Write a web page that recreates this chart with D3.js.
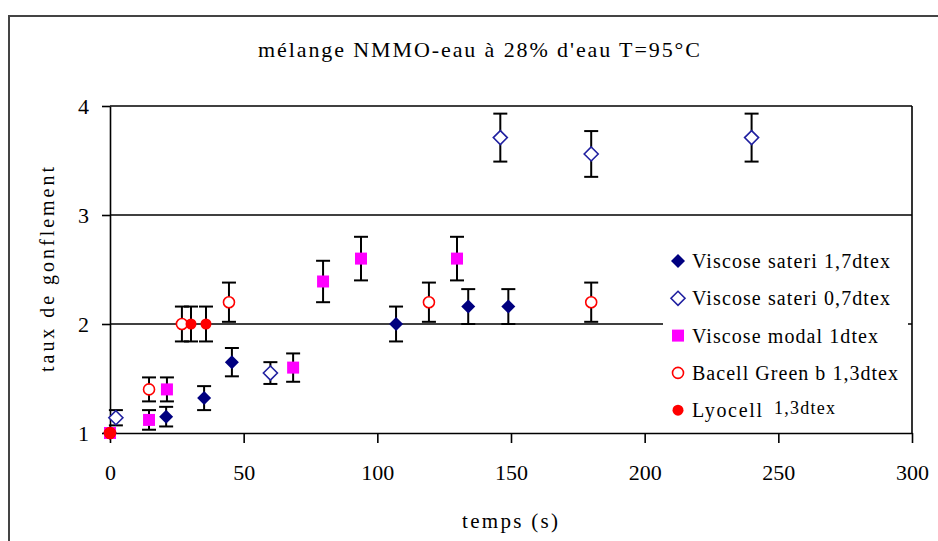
<!DOCTYPE html>
<html>
<head>
<meta charset="utf-8">
<script src="https://cdn.jsdelivr.net/npm/d3@7"></script>
<style>
  body { margin: 0; background: #fff; }
  svg { display: block; }
  text { font-family: "Liberation Serif", "DejaVu Serif", serif; fill: #000; }
</style>
</head>
<body>
<div id="chart"></div>
<script>
// [temps (s), taux de gonflement, erreur]
const sateri17 = [[0, 1, 0], [21, 1.15, 0.09], [35.2, 1.32, 0.11], [45.6, 1.65, 0.13], [107, 2.0, 0.16], [134, 2.16, 0.16], [149, 2.16, 0.16]];
const sateri07 = [[2.2, 1.14, 0.07], [60, 1.55, 0.1], [146, 3.71, 0.22], [180, 3.56, 0.21], [240, 3.71, 0.22]];
const modal1 = [[0, 1, 0], [14.6, 1.12, 0.09], [21.3, 1.4, 0.11], [68.5, 1.6, 0.13], [79.7, 2.39, 0.19], [93.9, 2.6, 0.2], [129.8, 2.6, 0.2]];
const bacell13 = [[0, 1, 0], [14.6, 1.4, 0.11], [26.9, 2.0, 0.16], [44.5, 2.2, 0.18], [119.3, 2.2, 0.18], [180, 2.2, 0.18]];
const lyocell13 = [[0, 1, 0], [30.3, 2.0, 0.16], [35.9, 2.0, 0.16]];

const seriesNames = ["Viscose sateri 1,7dtex", "Viscose sateri 0,7dtex", "Viscose modal 1dtex", "Bacell Green b 1,3dtex", "Lyocell"];
const xTicks = [0, 50, 100, 150, 200, 250, 300];
const yTicks = [1, 2, 3, 4];
const title = "mélange NMMO-eau à 28% d'eau T=95°C";

const W = 938, H = 541;
const plot = { left: 110, right: 912, top: 106, bottom: 433 };

const series = [
  { name: seriesNames[0], data: sateri17, shape: "diamond", fill: "#000080", stroke: "none" },
  { name: seriesNames[1], data: sateri07, shape: "diamond", fill: "#fff", stroke: "#2020a0" },
  { name: seriesNames[2], data: modal1, shape: "square", fill: "#ff00ff", stroke: "none" },
  { name: seriesNames[3], data: bacell13, shape: "circle", fill: "#fff", stroke: "#ff0000" },
  { name: seriesNames[4], data: lyocell13, shape: "circle", fill: "#ff0000", stroke: "none" }
];

const svg = d3.select("#chart").append("svg").attr("width", W).attr("height", H);

const x = d3.scaleLinear().domain([0, 300]).range([plot.left, plot.right]);
const y = d3.scaleLinear().domain([1, 4]).range([plot.bottom, plot.top]);

// cadre du graphique
svg.append("rect")
  .attr("x", 9).attr("y", 16).attr("width", W).attr("height", H)
  .attr("fill", "#fff").attr("stroke", "#444").attr("stroke-width", 2);

svg.append("text")
  .attr("x", 479).attr("y", 57)
  .attr("text-anchor", "middle")
  .attr("font-size", 22)
  .attr("textLength", 442).attr("lengthAdjust", "spacing")
  .text(title);

// grille horizontale
svg.append("g").selectAll("line")
  .data(yTicks.filter(d => d > 1))
  .join("line")
  .attr("x1", plot.left).attr("x2", plot.right)
  .attr("y1", d => y(d)).attr("y2", d => y(d))
  .attr("stroke", "#000").attr("stroke-width", 1.6);

// bord droit
svg.append("line")
  .attr("x1", plot.right).attr("x2", plot.right)
  .attr("y1", plot.top).attr("y2", plot.bottom)
  .attr("stroke", "#000").attr("stroke-width", 1.6);

const xAxis = svg.append("g")
  .attr("transform", `translate(0,${plot.bottom})`)
  .call(d3.axisBottom(x).tickValues(xTicks).tickFormat(d3.format("d")).tickSize(10).tickSizeOuter(0));
xAxis.select(".domain").attr("stroke-width", 1.6);
xAxis.selectAll(".tick line").attr("stroke-width", 1.6);
xAxis.selectAll(".tick text").attr("font-size", 22).attr("font-family", null).attr("dy", "0.35em").attr("y", 39);

const yAxis = svg.append("g")
  .attr("transform", `translate(${plot.left},0)`)
  .call(d3.axisLeft(y).tickValues(yTicks).tickFormat(d3.format("d")).tickSize(8).tickSizeOuter(0));
yAxis.select(".domain").attr("stroke-width", 1.6);
yAxis.selectAll(".tick line").attr("stroke-width", 1.6);
yAxis.selectAll(".tick text").attr("font-size", 22).attr("font-family", null).attr("dy", "0.32em").attr("x", -21);

svg.append("text")
  .attr("x", 510).attr("y", 528)
  .attr("text-anchor", "middle").attr("font-size", 21)
  .attr("textLength", 96).attr("lengthAdjust", "spacing")
  .text("temps (s)");

svg.append("text")
  .attr("transform", `translate(54,${(plot.top + plot.bottom) / 2}) rotate(-90)`)
  .attr("text-anchor", "middle").attr("font-size", 20)
  .attr("textLength", 205).attr("lengthAdjust", "spacing")
  .text("taux de gonflement");

function markerPath(shape) {
  if (shape === "diamond") return "M0,-7L7,0L0,7L-7,0Z";
  if (shape === "square") return "M-6,-6H6V6H-6Z";
  return d3.arc()({ innerRadius: 0, outerRadius: 5.5, startAngle: 0, endAngle: 2 * Math.PI });
}

// barres d'erreur
const errG = svg.append("g").attr("stroke", "#000").attr("stroke-width", 2);
series.forEach(s => {
  const pts = s.data.filter(d => d[2] > 0);
  errG.selectAll(null).data(pts).join("line")
    .attr("x1", d => x(d[0])).attr("x2", d => x(d[0]))
    .attr("y1", d => y(d[1] - d[2])).attr("y2", d => y(d[1] + d[2]));
  [-1, 1].forEach(sign => {
    errG.selectAll(null).data(pts).join("line")
      .attr("x1", d => x(d[0]) - 7).attr("x2", d => x(d[0]) + 7)
      .attr("y1", d => y(d[1] + sign * d[2])).attr("y2", d => y(d[1] + sign * d[2]));
  });
});

// points
series.forEach(s => {
  svg.append("g").selectAll("path").data(s.data).join("path")
    .attr("transform", d => `translate(${x(d[0])},${y(d[1])})`)
    .attr("d", markerPath(s.shape))
    .attr("fill", s.fill)
    .attr("stroke", s.stroke)
    .attr("stroke-width", s.stroke === "none" ? 0 : 1.6);
});

// légende
const legend = svg.append("g");
legend.append("rect")
  .attr("x", 663).attr("y", 238).attr("width", 245).attr("height", 190)
  .attr("fill", "#fff");
const legendWidths = [198, 198, 186, 206, 70];
series.forEach((s, i) => {
  const ly = 261 + i * 37.3;
  legend.append("path")
    .attr("transform", `translate(678,${ly})`)
    .attr("d", markerPath(s.shape))
    .attr("fill", s.fill)
    .attr("stroke", s.stroke)
    .attr("stroke-width", s.stroke === "none" ? 0 : 1.6);
  legend.append("text")
    .attr("x", 692).attr("y", ly + 7)
    .attr("font-size", 20)
    .attr("textLength", legendWidths[i]).attr("lengthAdjust", "spacing")
    .text(s.name);
});
legend.append("text")
  .attr("x", 774).attr("y", 414)
  .attr("font-size", 18)
  .attr("textLength", 61).attr("lengthAdjust", "spacing")
  .text("1,3dtex");
</script>
</body>
</html>
